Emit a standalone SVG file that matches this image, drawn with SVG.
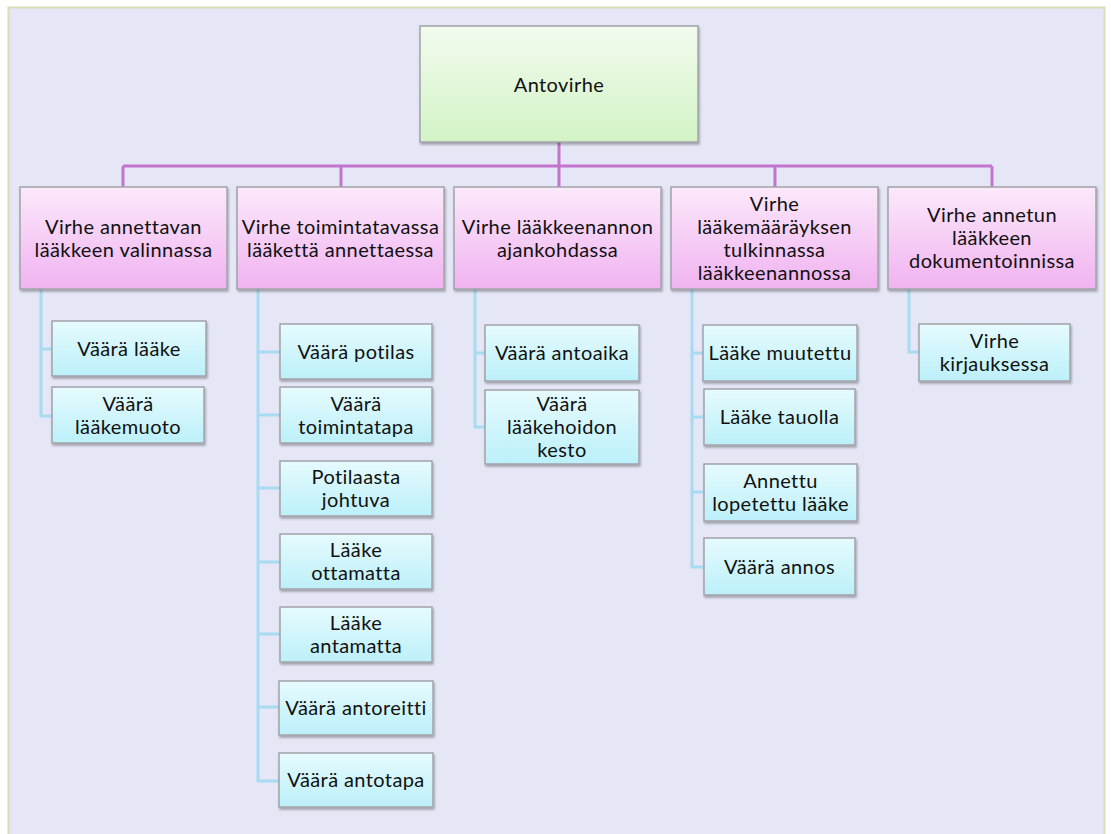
<svg xmlns="http://www.w3.org/2000/svg" width="1111" height="834" viewBox="0 0 1111 834">
  <defs>
    <linearGradient id="gRoot" x1="0" y1="0" x2="0" y2="1">
      <stop offset="0" stop-color="#F2FBEE"/>
      <stop offset="1" stop-color="#D3F4C6"/>
    </linearGradient>
    <linearGradient id="gCat" x1="0" y1="0" x2="0" y2="1">
      <stop offset="0" stop-color="#FCE9FB"/>
      <stop offset="1" stop-color="#F0B3F0"/>
    </linearGradient>
    <linearGradient id="gLeaf" x1="0" y1="0" x2="0" y2="1">
      <stop offset="0" stop-color="#E6FBFE"/>
      <stop offset="1" stop-color="#BCF0FA"/>
    </linearGradient>
    <filter id="shadow" x="-10%" y="-10%" width="120%" height="130%">
      <feDropShadow dx="1" dy="2" stdDeviation="1.2" flood-color="#000" flood-opacity="0.3"/>
    </filter>
  </defs>
  <style>
    .box { stroke: #A3A3A8; stroke-width: 1.5; filter: url(#shadow); }
    .root { fill: url(#gRoot); }
    .cat { fill: url(#gCat); }
    .leaf { fill: url(#gLeaf); }
    .lbl { font-family: Lato, "Liberation Sans", sans-serif; font-size: 20px; letter-spacing: 0.4px; fill: #111; text-anchor: middle; }
    .top { fill: none; stroke: #C374CF; stroke-width: 3; }
    .sub { fill: none; stroke: #A6DBF2; stroke-width: 3; }
  </style>

  <rect x="0" y="0" width="1111" height="834" fill="#FFFFFF"/>
  <rect x="8.5" y="7.5" width="1096" height="840" fill="#E6E7F6" stroke="#D6DFB5" stroke-width="2"/>

  <!-- connectors -->
  <g id="connectors">
    <path class="top" d="M559,142 V166 M123,166 H992 M123,166 V187 M341,166 V187 M559,166 V187 M775,166 V187 M992,166 V187"/>
    <path class="sub" d="M41,289 V416 H52 M41,349 H52"/>
    <path class="sub" d="M258,289 V781 H280 M258,352 H280 M258,415 H280 M258,488 H280 M258,562 H280 M258,634 H280 M258,707 H280"/>
    <path class="sub" d="M475,289 V427 H485 M475,353 H485"/>
    <path class="sub" d="M692,289 V567 H703 M692,353 H703 M692,417 H703 M692,492 H703"/>
    <path class="sub" d="M909,289 V352 H919"/>
  </g>

  <!-- root -->
  <g id="n-antovirhe">
    <rect class="box root" x="420" y="26" width="278" height="116"/>
    <text class="lbl" x="559" y="92">Antovirhe</text>
  </g>

  <!-- categories -->
  <g id="n-valinta">
    <rect class="box cat" x="20" y="187" width="207" height="102"/>
    <text class="lbl" x="123.5" y="233.5">Virhe annettavan</text>
    <text class="lbl" x="123.5" y="256.5">lääkkeen valinnassa</text>
  </g>
  <g id="n-toimintatapa">
    <rect class="box cat" x="237" y="187" width="207" height="102"/>
    <text class="lbl" x="340.5" y="233.5">Virhe toimintatavassa</text>
    <text class="lbl" x="340.5" y="256.5">lääkettä annettaessa</text>
  </g>
  <g id="n-ajankohta">
    <rect class="box cat" x="454" y="187" width="207" height="102"/>
    <text class="lbl" x="557.5" y="233.5">Virhe lääkkeenannon</text>
    <text class="lbl" x="557.5" y="256.5">ajankohdassa</text>
  </g>
  <g id="n-tulkinta">
    <rect class="box cat" x="671" y="187" width="207" height="102"/>
    <text class="lbl" x="774.5" y="210.5">Virhe</text>
    <text class="lbl" x="774.5" y="233.5">lääkemääräyksen</text>
    <text class="lbl" x="774.5" y="256.5">tulkinnassa</text>
    <text class="lbl" x="774.5" y="279.5">lääkkeenannossa</text>
  </g>
  <g id="n-dokumentointi">
    <rect class="box cat" x="888" y="187" width="208" height="102"/>
    <text class="lbl" x="992" y="222">Virhe annetun</text>
    <text class="lbl" x="992" y="245">lääkkeen</text>
    <text class="lbl" x="992" y="268">dokumentoinnissa</text>
  </g>

  <!-- column 1 -->
  <g id="n-vaara-laake">
    <rect class="box leaf" x="52" y="321" width="154" height="55"/>
    <text class="lbl" x="129" y="355.5">Väärä lääke</text>
  </g>
  <g id="n-vaara-laakemuoto">
    <rect class="box leaf" x="52" y="387" width="152" height="56"/>
    <text class="lbl" x="128" y="410.5">Väärä</text>
    <text class="lbl" x="128" y="433.5">lääkemuoto</text>
  </g>

  <!-- column 2 -->
  <g id="n-vaara-potilas">
    <rect class="box leaf" x="280" y="324" width="152" height="55"/>
    <text class="lbl" x="356" y="358.5">Väärä potilas</text>
  </g>
  <g id="n-vaara-toimintatapa">
    <rect class="box leaf" x="280" y="387" width="152" height="56"/>
    <text class="lbl" x="356" y="410.5">Väärä</text>
    <text class="lbl" x="356" y="433.5">toimintatapa</text>
  </g>
  <g id="n-potilaasta-johtuva">
    <rect class="box leaf" x="280" y="461" width="152" height="55"/>
    <text class="lbl" x="356" y="484">Potilaasta</text>
    <text class="lbl" x="356" y="507">johtuva</text>
  </g>
  <g id="n-laake-ottamatta">
    <rect class="box leaf" x="280" y="534" width="152" height="55"/>
    <text class="lbl" x="356" y="557">Lääke</text>
    <text class="lbl" x="356" y="580">ottamatta</text>
  </g>
  <g id="n-laake-antamatta">
    <rect class="box leaf" x="280" y="607" width="152" height="55"/>
    <text class="lbl" x="356" y="630">Lääke</text>
    <text class="lbl" x="356" y="653">antamatta</text>
  </g>
  <g id="n-vaara-antoreitti">
    <rect class="box leaf" x="279" y="681" width="154" height="54"/>
    <text class="lbl" x="356" y="715">Väärä antoreitti</text>
  </g>
  <g id="n-vaara-antotapa">
    <rect class="box leaf" x="279" y="753" width="154" height="54"/>
    <text class="lbl" x="356" y="787">Väärä antotapa</text>
  </g>

  <!-- column 3 -->
  <g id="n-vaara-antoaika">
    <rect class="box leaf" x="485" y="325" width="154" height="56"/>
    <text class="lbl" x="562" y="360">Väärä antoaika</text>
  </g>
  <g id="n-vaara-kesto">
    <rect class="box leaf" x="485" y="390" width="154" height="74"/>
    <text class="lbl" x="562" y="411">Väärä</text>
    <text class="lbl" x="562" y="434">lääkehoidon</text>
    <text class="lbl" x="562" y="457">kesto</text>
  </g>

  <!-- column 4 -->
  <g id="n-laake-muutettu">
    <rect class="box leaf" x="703" y="325" width="154" height="56"/>
    <text class="lbl" x="780" y="360">Lääke muutettu</text>
  </g>
  <g id="n-laake-tauolla">
    <rect class="box leaf" x="704" y="389" width="151" height="56"/>
    <text class="lbl" x="779.5" y="424">Lääke tauolla</text>
  </g>
  <g id="n-annettu-lopetettu">
    <rect class="box leaf" x="704" y="464" width="153" height="57"/>
    <text class="lbl" x="780.5" y="487.5">Annettu</text>
    <text class="lbl" x="780.5" y="510.5">lopetettu lääke</text>
  </g>
  <g id="n-vaara-annos">
    <rect class="box leaf" x="704" y="538" width="151" height="57"/>
    <text class="lbl" x="779.5" y="573.5">Väärä annos</text>
  </g>

  <!-- column 5 -->
  <g id="n-virhe-kirjauksessa">
    <rect class="box leaf" x="919" y="324" width="151" height="57"/>
    <text class="lbl" x="994.5" y="347.5">Virhe</text>
    <text class="lbl" x="994.5" y="370.5">kirjauksessa</text>
  </g>
</svg>
